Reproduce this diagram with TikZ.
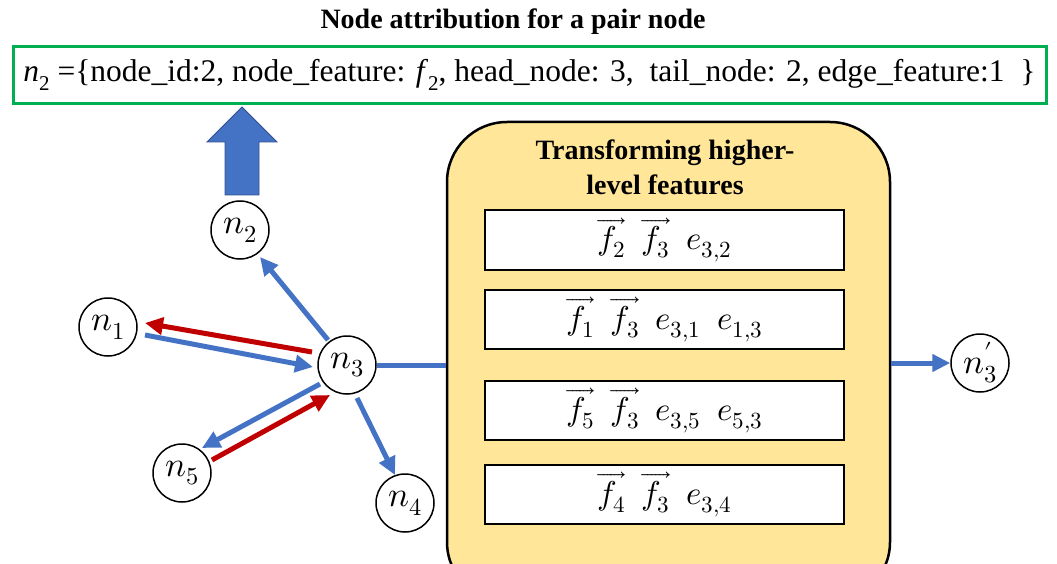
\documentclass[tikz,border=0pt]{standalone}
\usepackage{fontspec}
\usepackage{unicode-math}
\setmainfont{Liberation Serif}
\setmathfont{Latin Modern Math}
\usetikzlibrary{arrows.meta}
\definecolor{myblue}{HTML}{4472C4}
\definecolor{myred}{HTML}{C00000}
\definecolor{mygreen}{HTML}{00B050}
\definecolor{myyellow}{HTML}{FFE699}
\definecolor{darkblue}{HTML}{2F528F}
\begin{document}
\begin{tikzpicture}[x=1pt,y=-1pt,
  nd/.style={circle, draw, line width=1.5pt, minimum size=58pt, inner sep=0pt, font=\fontsize{35}{38}\selectfont},
  tip/.style={-{Triangle[length=18pt,width=17pt]}},
  bl/.style={tip, draw=myblue, line width=5pt},
  rd/.style={tip, draw=myred, line width=5pt},
  featbox/.style={draw, fill=white, line width=2pt, minimum width=359pt, minimum height=59pt, inner sep=0pt, font=\fontsize{33}{36}\selectfont},
  ]
\useasboundingbox (0,0) rectangle (1057,564);
\clip (0,0) rectangle (1057,564);

% title
\node[font=\fontsize{28}{32}\selectfont\bfseries] (title) at (513,22) {Node attribution for a pair node};
% green box
\node[draw=mygreen, line width=3pt, minimum width=1033pt, minimum height=57pt, inner sep=0pt,
      font=\fontsize{31.5}{34}\selectfont] (attr) at (529.5,75)
  {\textit{n}\raisebox{-0.3em}{\fontsize{21}{22}\selectfont 2} =\{node\_id:2, node\_feature: \textit{f}\raisebox{-0.3em}{\fontsize{21}{22}\selectfont 2}, head\_node: 3,\ \ tail\_node: 2, edge\_feature:1\ \ \}};

% big up arrow
\filldraw[fill=myblue, draw=darkblue, line width=0.8pt]
  (225,195) -- (259,195) -- (259,142) -- (277,142) -- (242,107) -- (207,142) -- (225,142) -- cycle;

% nodes
\node[nd] (n1) at (108,327) {$n_1$};
\node[nd] (n2) at (240,230) {$n_2$};
\node[nd] (n3) at (347,365) {$n_3$};
\node[nd] (n4) at (405,503) {$n_4$};
\node[nd] (n5) at (182,473) {$n_5$};
\node[nd] (n3p) at (980,363) {$n'_3$};

% yellow box
\node[draw, fill=myyellow, line width=2.5pt, rounded corners=60pt, minimum width=443pt, minimum height=480pt, inner sep=0pt] (ybox) at (668.5,362) {};
\node[font=\fontsize{28}{35}\selectfont\bfseries, align=center] (ytitle) at (665,167) {Transforming higher-\\level features};

\node[featbox] (b1) at (664.5,240) {$\overrightarrow{f_2}\ \ \overrightarrow{f_3}\ \ e_{3,2}$};
\node[featbox] (b2) at (664.5,319.5) {$\overrightarrow{f_1}\ \ \overrightarrow{f_3}\ \ e_{3,1}\ \ e_{1,3}$};
\node[featbox] (b3) at (664.5,410.5) {$\overrightarrow{f_5}\ \ \overrightarrow{f_3}\ \ e_{3,5}\ \ e_{5,3}$};
\node[featbox] (b4) at (664.5,494.5) {$\overrightarrow{f_4}\ \ \overrightarrow{f_3}\ \ e_{3,4}$};

% connectors
\draw[bl] ([shift={(-19,-25)}]n3.center) -- ([shift={(20,27)}]n2.center);
\draw[rd] ([shift={(-35,-13)}]n3.center) -- ([shift={(37,-4)}]n1.center);
\draw[bl] ([shift={(37,8)}]n1.center) -- ([shift={(-34,2)}]n3.center);
\draw[bl] ([shift={(-27,19)}]n3.center) -- ([shift={(20,-25)}]n5.center);
\draw[rd] ([shift={(30,-13)}]n5.center) -- ([shift={(-17,30)}]n3.center);
\draw[bl] ([shift={(10,33)}]n3.center) -- ([shift={(-10,-28)}]n4.center);
\draw[draw=myblue, line width=5pt] (n3.east) -- (n3.east -| ybox.west);
\draw[bl] (ybox.east |- n3p.west) -- (n3p.west);
\end{tikzpicture}
\end{document}
